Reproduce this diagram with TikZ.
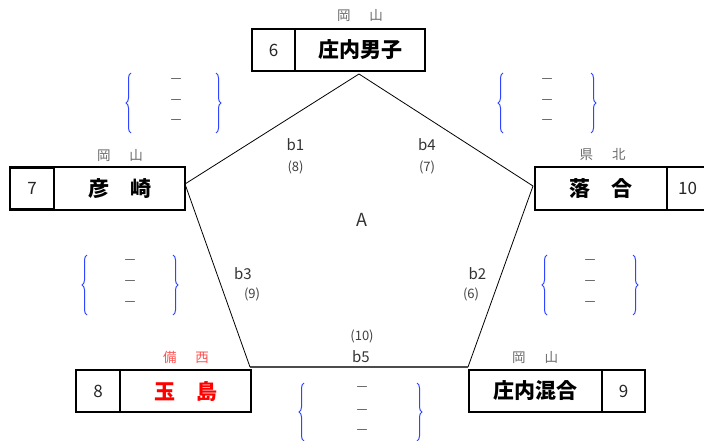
\documentclass[tikz,border=0pt]{standalone}
\usepackage{fontspec}
\newfontfamily\jp{Noto Sans CJK JP}
\usetikzlibrary{decorations.pathreplacing}
\definecolor{brblue}{HTML}{2F45FF}
\definecolor{regiongray}{HTML}{6A6A6A}
\definecolor{lightred}{HTML}{FF5050}
\tikzset{
  cell/.style={draw, line width=2.4pt, minimum height=42pt, inner sep=0pt},
  namecell/.style={cell, font=\jp\bfseries\fontsize{21}{21}\selectfont},
  numcell/.style={cell, font=\jp\fontsize{17}{17}\selectfont, text=black!85},
  region/.style={font=\jp\fontsize{13.5}{13.5}\selectfont, text=regiongray, inner sep=0pt},
  blab/.style={font=\jp\fontsize{15}{15}\selectfont, text=black!80, inner sep=0pt},
  slab/.style={font=\jp\fontsize{13}{13}\selectfont, text=black!75, inner sep=0pt},
  dashmark/.style={font=\jp\bfseries\fontsize{11.5}{11.5}\selectfont, text=black, inner sep=0pt},
  curly/.style={draw=brblue, line width=1pt, decorate, decoration={brace, amplitude=5pt}},
  edge/.style={draw, line width=0.8pt}
}
\begin{document}
\begin{tikzpicture}[x=1pt, y=-1pt]
\useasboundingbox (0,0) rectangle (704,441);
% pentagon
\coordinate (pT) at (359,74);
\coordinate (pR) at (533,186);
\coordinate (pBR) at (468,367);
\coordinate (pBL) at (250,367);
\coordinate (pL) at (185,184);
\draw[edge] (pT) -- (pR) -- (pBR);
\draw[edge, draw=black!70, line width=1.3pt] (pBR) -- (pBL);
\draw[edge] (pBL) -- (pL) -- (pT);
\node[font=\jp\fontsize{18}{18}\selectfont, text=black!80, inner sep=0pt] (A) at (362,220) {A};
% top team
\node[numcell, minimum width=43pt] (n6) at (273.5,50) {6};
\node[namecell, minimum width=130pt] (t6) at (360,50) {庄内男子};
\node[region] (r6) at (360,16) {岡\hspace{19pt}山};
% left team
\node[numcell, minimum width=44pt] (n7) at (32,188.5) {7};
\node[namecell, minimum width=131pt, minimum height=43pt] (t7) at (119.5,188.5) {彦　崎};
\node[region] (r7) at (120,156) {岡\hspace{19pt}山};
% right team
\node[namecell, minimum width=132pt, minimum height=43pt] (t10) at (601,188.5) {落　合};
\node[numcell, minimum width=41pt, minimum height=43pt] (n10) at (687.5,188.5) {10};
\node[region] (r10) at (602.5,154.5) {県\hspace{19pt}北};
% bottom-left team
\node[numcell, minimum width=44pt] (n8) at (98,391) {8};
\node[namecell, minimum width=131pt, text=red] (t8) at (185.5,391) {玉　島};
\node[region, text=lightred] (r8) at (186,357.5) {備\hspace{19pt}西};
% bottom-right team
\node[namecell, minimum width=133pt] (t9) at (535.5,391) {庄内混合};
\node[numcell, minimum width=43pt] (n9) at (623.5,391) {9};
\node[region] (r9) at (535,358) {岡\hspace{19pt}山};
% edge labels
\node[blab] (b1) at (295.5,145) {b1};
\node[slab] (s1) at (295.5,167) {(8)};
\node[blab] (b4) at (427,145) {b4};
\node[slab] (s4) at (427,167) {(7)};
\node[blab] (b3) at (243,273.5) {b3};
\node[slab] (s3) at (252,294) {(9)};
\node[blab] (b2) at (477.5,273.5) {b2};
\node[slab] (s2) at (471,294) {(6)};
\node[slab] (s5) at (362,336) {(10)};
\node[blab] (b5) at (361,356.5) {b5};
% braces with dashes
% top-left
\draw[curly] (131,133) -- (131,73);
\draw[curly] (216,73) -- (216,133);
\node[dashmark] (d11) at (176,80.7) {―};
\node[dashmark] (d12) at (176,101.7) {―};
\node[dashmark] (d13) at (176,122.3) {―};
% top-right
\draw[curly] (503,133) -- (503,73);
\draw[curly] (591,73) -- (591,133);
\node[dashmark] (d21) at (547,80.7) {―};
\node[dashmark] (d22) at (547,101.7) {―};
\node[dashmark] (d23) at (547,122.3) {―};
% middle-left
\draw[curly] (87,315) -- (87,255);
\draw[curly] (173,255) -- (173,315);
\node[dashmark] (d31) at (130,262) {―};
\node[dashmark] (d32) at (130,283) {―};
\node[dashmark] (d33) at (130,304) {―};
% middle-right
\draw[curly] (547,315) -- (547,255);
\draw[curly] (633,255) -- (633,315);
\node[dashmark] (d41) at (590,262) {―};
\node[dashmark] (d42) at (590,283) {―};
\node[dashmark] (d43) at (590,304) {―};
% bottom
\draw[curly] (304,441) -- (304,383);
\draw[curly] (417,383) -- (417,441);
\node[dashmark] (d51) at (362,389) {―};
\node[dashmark] (d52) at (362,411.7) {―};
\node[dashmark] (d53) at (362,432) {―};
\end{tikzpicture}
\end{document}
